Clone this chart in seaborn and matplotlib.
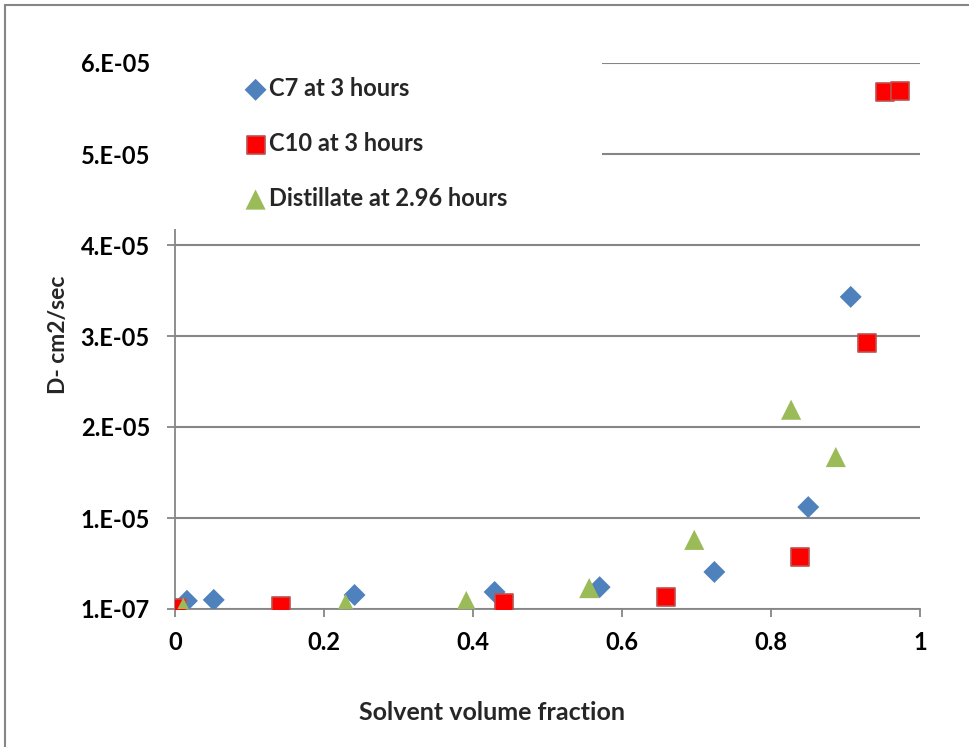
import matplotlib
matplotlib.use("Agg")
import matplotlib.pyplot as plt
from matplotlib.patches import Rectangle
import seaborn as sns
import pandas as pd

# ---- data ----
c7_x = [0.016, 0.052, 0.241, 0.429, 0.570, 0.724, 0.850, 0.907]
c7_y = [1.0e-6, 1.1e-6, 1.64e-6, 1.97e-6, 2.5e-6, 4.17e-6, 1.13e-5, 3.44e-5]

c10_x = [0.003, 0.142, 0.441, 0.659, 0.839, 0.929, 0.953, 0.973]
c10_y = [2.5e-7, 4.3e-7, 7.6e-7, 1.42e-6, 5.8e-6, 2.93e-5, 5.69e-5, 5.70e-5]

dist_x = [0.011, 0.229, 0.391, 0.556, 0.697, 0.827, 0.887]
dist_y = [2.5e-7, 6.5e-7, 9.8e-7, 2.4e-6, 7.7e-6, 2.2e-5, 1.68e-5]

series_names = ["C7 at 3 hours", "C10 at 3 hours", "Distillate at 2.96 hours"]

y_ticks = [1e-7, 1.01e-5, 2.01e-5, 3.01e-5, 4.01e-5, 5.01e-5, 6.01e-5]
y_tick_labels = ["1.E-07", "1.E-05", "2.E-05", "3.E-05", "4.E-05", "5.E-05", "6.E-05"]
x_ticks = [0, 0.2, 0.4, 0.6, 0.8, 1.0]
x_tick_labels = ["0", "0.2", "0.4", "0.6", "0.8", "1"]

x_label = "Solvent volume fraction"
y_label = "D- cm2/sec"

# ---- styling ----
sns.set_style("white")
plt.rcParams["font.family"] = ["Lato", "DejaVu Sans"]
plt.rcParams["font.weight"] = "bold"

W, H = 969, 747
fig = plt.figure(figsize=(W / 100, H / 100), dpi=100)
ax = fig.add_axes([175 / W, 1 - 609 / H, (920 - 175) / W, (609 - 63) / H])

grid_col = "#868686"
blue = "#4F81BD"
red = "#FF0000"
green = "#9BBB59"

df_c7 = pd.DataFrame({"x": c7_x, "y": c7_y})
df_c10 = pd.DataFrame({"x": c10_x, "y": c10_y})
df_d = pd.DataFrame({"x": dist_x, "y": dist_y})

sns.scatterplot(data=df_c7, x="x", y="y", ax=ax, marker="D", s=125,
                color=blue, edgecolor="none", linewidth=0, label=series_names[0], zorder=3)
sns.scatterplot(data=df_c10, x="x", y="y", ax=ax, marker="s", s=180,
                color=red, edgecolor="#C0504D", linewidth=1.2, label=series_names[1], zorder=3)
sns.scatterplot(data=df_d, x="x", y="y", ax=ax, marker="^", s=210,
                color=green, edgecolor="none", linewidth=0, label=series_names[2], zorder=3)

ax.set_xlim(0, 1)
ax.set_ylim(y_ticks[0], y_ticks[-1])
ax.set_xticks(x_ticks)
ax.set_xticklabels(x_tick_labels)
ax.set_yticks(y_ticks)
ax.set_yticklabels(y_tick_labels)
ax.set_xlabel("")
ax.set_ylabel("")

for s in ["top", "right"]:
    ax.spines[s].set_visible(False)
for s in ["left", "bottom"]:
    ax.spines[s].set_color(grid_col)
    ax.spines[s].set_linewidth(1.3)
    ax.spines[s].set_zorder(2)

ax.yaxis.grid(True, color=grid_col, linewidth=1.5)
ax.xaxis.grid(False)
ax.set_axisbelow(True)

ax.tick_params(axis="both", direction="out", length=6, width=1.3, color=grid_col,
               labelsize=17, labelcolor="black")
ax.tick_params(axis="y", pad=12, left=True)
ax.tick_params(axis="x", pad=10, bottom=True)
for lab in ax.get_xticklabels() + ax.get_yticklabels():
    lab.set_fontweight("bold")

handles, labels = ax.get_legend_handles_labels()
ax.get_legend().remove()

# white box that the legend sits on (covers grid/spine like the original)
fig.add_artist(Rectangle((160 / W, 1 - 229 / H), (602 - 160) / W, (229 - 40) / H,
                         transform=fig.transFigure, facecolor="white",
                         edgecolor="none", zorder=1))

leg = fig.legend(handles, labels, loc="upper left",
                 bbox_to_anchor=(242 / W, 1 - 77 / H), frameon=False,
                 prop={"size": 17, "weight": "bold"}, labelspacing=1.35,
                 handletextpad=0.0, handlelength=1.15, borderpad=0, borderaxespad=0)
leg.set_zorder(5)

fig.text(492 / W, 1 - 713 / H, x_label, ha="center", va="center",
         fontsize=18, fontweight="bold")
fig.text(58 / W, 1 - 335 / H, y_label, ha="center", va="center",
         rotation=90, fontsize=16.5, fontweight="bold")

# outer chart border
fig.add_artist(Rectangle((5 / W, -0.1), 1.2, 1.1 - 5 / H, transform=fig.transFigure,
                         fill=False, edgecolor=grid_col, linewidth=1.5, zorder=0))

fig.savefig("out.png", dpi=100)
